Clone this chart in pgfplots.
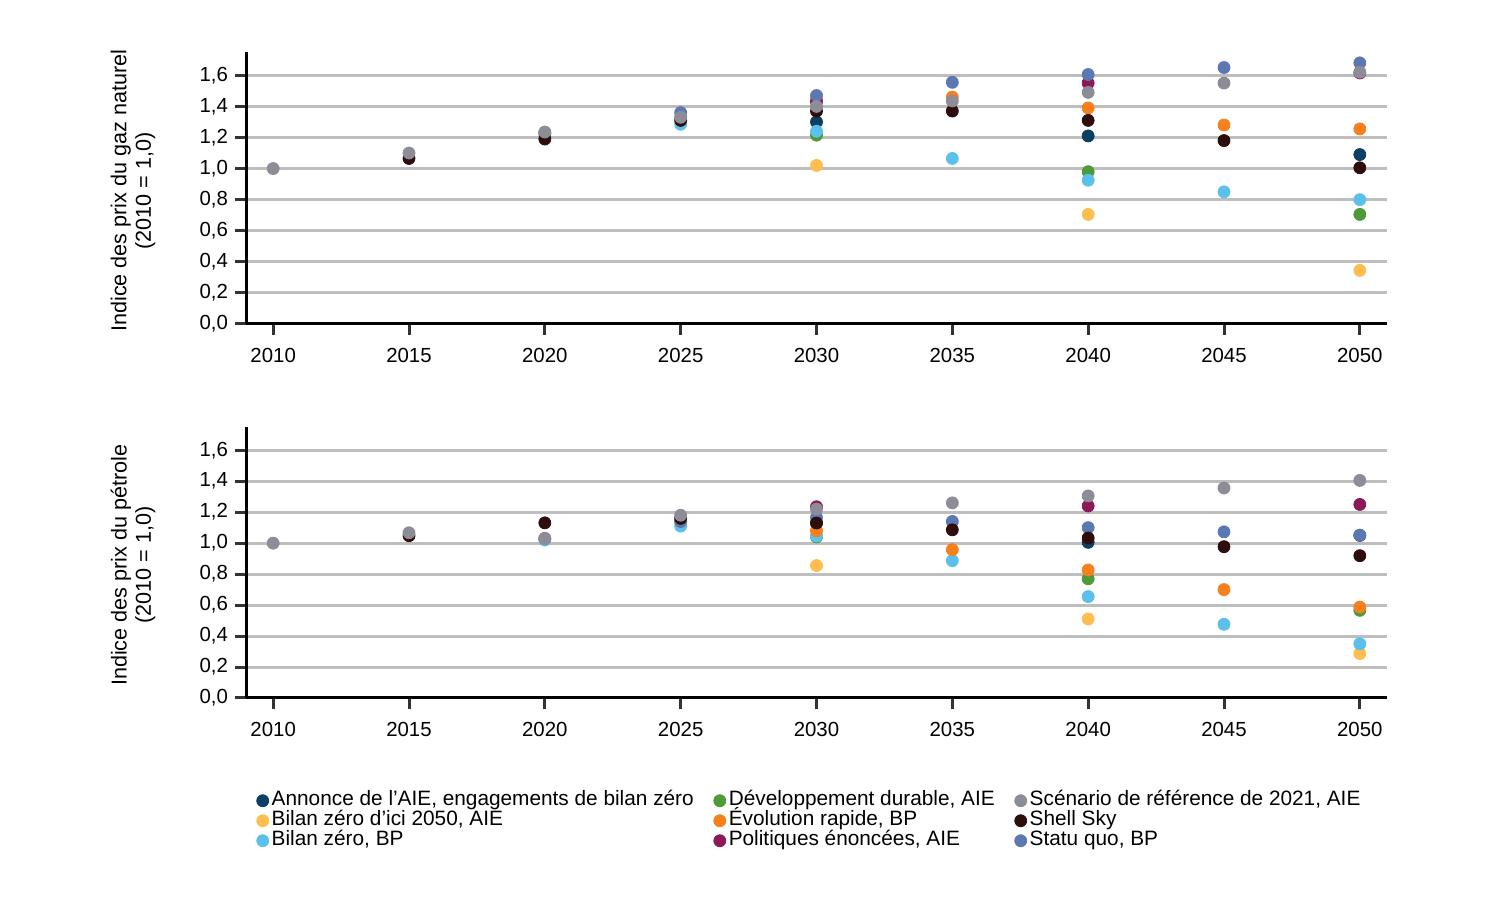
\documentclass[border=0pt]{standalone}
\usepackage{pgfplots}
\pgfplotsset{compat=1.18}
\usepackage{fontspec}
\setmainfont{Liberation Sans}

\definecolor{cNavy}{HTML}{0B3F63}
\definecolor{cYellow}{HTML}{FDBE4F}
\definecolor{cLblue}{HTML}{5BC0EB}
\definecolor{cGreen}{HTML}{4C9A38}
\definecolor{cOrange}{HTML}{F7801E}
\definecolor{cPurple}{HTML}{8B1A57}
\definecolor{cGray}{HTML}{8C8D97}
\definecolor{cShell}{HTML}{2E0D0D}
\definecolor{cStatu}{HTML}{5B78B2}
\definecolor{cGrid}{HTML}{BEBEBE}
\definecolor{cTick}{HTML}{333333}

\pgfplotsset{
  panel/.style={
    scale only axis,
    width=570.5pt, height=136pt,
    xmin=2009, xmax=2051, ymin=0, ymax=1.75,
    axis x line*=bottom, axis y line*=left,
    axis line style={-, line width=1.5pt, black},
    xtick={2010,2015,...,2050},
    ytick={0,0.2,...,1.6},
    xticklabel style={/pgf/number format/1000 sep={}, yshift=-3pt},
    yticklabel style={/pgf/number format/.cd, use comma, fixed, fixed zerofill, precision=1},
    /pgf/number format/assume math mode=true,
    tick align=outside,
    major tick length=5.5pt,
    tick style={line width=1.5pt, cTick},
    ymajorgrids,
    grid style={line width=1.5pt, cGrid},
    font=\fontsize{10.2}{12}\selectfont,
    ylabel style={align=center, at={(axis description cs:-0.099,0.49)}, anchor=center,
      font=\fontsize{10.8}{12.2}\selectfont},
    every axis plot/.append style={only marks, mark=*, mark size=3pt},
    clip=false,
  },
  sNavy/.style={cNavy, mark options={fill=cNavy, draw=cNavy}},
  sYellow/.style={cYellow, mark options={fill=cYellow, draw=cYellow}},
  sLblue/.style={cLblue, mark options={fill=cLblue, draw=cLblue}},
  sGreen/.style={cGreen, mark options={fill=cGreen, draw=cGreen}},
  sOrange/.style={cOrange, mark options={fill=cOrange, draw=cOrange}},
  sPurple/.style={cPurple, mark options={fill=cPurple, draw=cPurple}},
  sGray/.style={cGray, mark options={fill=cGray, draw=cGray}},
  sShell/.style={cShell, mark options={fill=cShell, draw=cShell}},
  sStatu/.style={cStatu, mark options={fill=cStatu, draw=cStatu}},
}

\begin{document}
\begin{tikzpicture}
\path[use as bounding box] (0,0) rectangle (750pt,450pt);

% natural gas
\begin{axis}[panel, at={(123pt,288pt)}, anchor=south west,
  ylabel={Indice des prix du gaz naturel\\(2010 = 1,0)}]
\addplot[sNavy] coordinates {(2030,1.30) (2040,1.21) (2050,1.09)};
\addplot[sYellow] coordinates {(2030,1.02) (2040,0.705) (2050,0.345)};
\addplot[sGreen] coordinates {(2030,1.215) (2040,0.98) (2050,0.705)};
\addplot[sLblue] coordinates {(2020,1.22) (2025,1.285) (2030,1.24) (2035,1.065) (2040,0.925) (2045,0.85) (2050,0.80)};
\addplot[sOrange] coordinates {(2020,1.23) (2025,1.33) (2030,1.445) (2035,1.46) (2040,1.39) (2045,1.28) (2050,1.255)};
\addplot[sPurple] coordinates {(2030,1.43) (2040,1.55) (2050,1.615)};
\addplot[sStatu] coordinates {(2020,1.23) (2025,1.36) (2030,1.47) (2035,1.555) (2040,1.605) (2045,1.65) (2050,1.68)};
\addplot[sShell] coordinates {(2015,1.065) (2020,1.19) (2025,1.31) (2030,1.37) (2035,1.37) (2040,1.31) (2045,1.18) (2050,1.005)};
\addplot[sGray] coordinates {(2010,1.0) (2015,1.10) (2020,1.235) (2025,1.33) (2030,1.40) (2035,1.435) (2040,1.49) (2045,1.55) (2050,1.62)};
\end{axis}

% oil
\begin{axis}[panel, at={(123pt,101pt)}, anchor=south west, height=135.5pt,
  ylabel={Indice des prix du pétrole\\(2010 = 1,0)},
  legend columns=3, transpose legend,
  legend cell align=left,
  legend image code/.code={\draw[#1] plot coordinates {(0pt,0pt)};},
  legend style={at={(axis description cs:0.0038,-0.326)}, anchor=north west,
    draw=none, fill=none, font=\fontsize{10.4}{12}\selectfont,
    nodes={inner sep=0.5pt, text height=7pt, text depth=2pt},
    row sep=0pt,
    /tikz/every odd column/.append style={column sep=1pt},
    /tikz/every even column/.append style={column sep=9.5pt}}]
% legend in alphabetical order
\addlegendimage{sNavy}   \addlegendentry{Annonce de l’AIE, engagements de bilan zéro}
\addlegendimage{sYellow} \addlegendentry{Bilan zéro d’ici 2050, AIE}
\addlegendimage{sLblue}  \addlegendentry{Bilan zéro, BP}
\addlegendimage{sGreen}  \addlegendentry{Développement durable, AIE}
\addlegendimage{sOrange} \addlegendentry{Évolution rapide, BP}
\addlegendimage{sPurple} \addlegendentry{Politiques énoncées, AIE}
\addlegendimage{sGray}   \addlegendentry{Scénario de référence de 2021, AIE}
\addlegendimage{sShell}  \addlegendentry{Shell Sky}
\addlegendimage{sStatu}  \addlegendentry{Statu quo, BP}
% data, in drawing order
\addplot[sNavy, forget plot] coordinates {(2030,1.13) (2040,1.005) (2050,1.05)};
\addplot[sYellow, forget plot] coordinates {(2030,0.855) (2040,0.51) (2050,0.287)};
\addplot[sGreen, forget plot] coordinates {(2030,1.04) (2040,0.77) (2050,0.566)};
\addplot[sLblue, forget plot] coordinates {(2020,1.02) (2025,1.11) (2030,1.045) (2035,0.887) (2040,0.655) (2045,0.476) (2050,0.35)};
\addplot[sOrange, forget plot] coordinates {(2020,1.03) (2025,1.14) (2030,1.08) (2035,0.958) (2040,0.827) (2045,0.70) (2050,0.587)};
\addplot[sPurple, forget plot] coordinates {(2030,1.235) (2040,1.24) (2050,1.25)};
\addplot[sStatu, forget plot] coordinates {(2020,1.03) (2025,1.14) (2030,1.165) (2035,1.14) (2040,1.10) (2045,1.073) (2050,1.052)};
\addplot[sShell, forget plot] coordinates {(2015,1.048) (2020,1.131) (2025,1.16) (2030,1.13) (2035,1.086) (2040,1.033) (2045,0.977) (2050,0.919)};
\addplot[sGray, forget plot] coordinates {(2010,1.0) (2015,1.067) (2020,1.028) (2025,1.18) (2030,1.22) (2035,1.26) (2040,1.305) (2045,1.356) (2050,1.405)};
\end{axis}
\end{tikzpicture}
\end{document}
